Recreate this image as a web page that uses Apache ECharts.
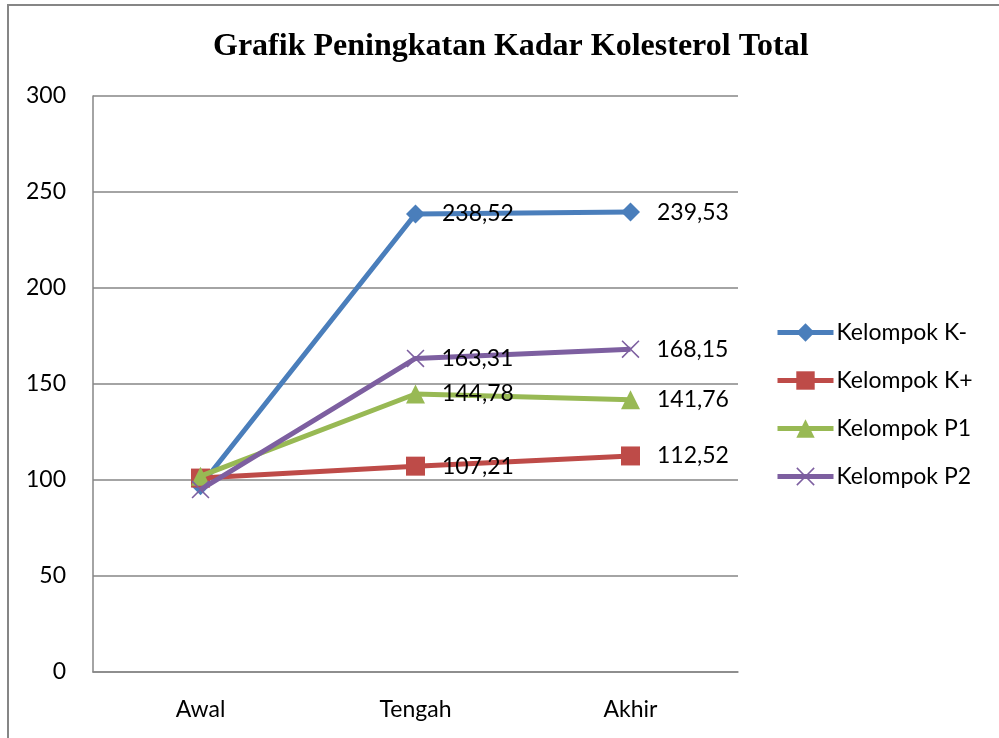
<!DOCTYPE html>
<html>
<head>
<meta charset="utf-8">
<script src="https://cdn.jsdelivr.net/npm/echarts@6/dist/echarts.min.js"></script>
<style>html,body{margin:0;padding:0;background:#fff}#c{width:999px;height:738px}</style>
</head>
<body>
<div id="c"></div>
<script>
const categories = ['Awal', 'Tengah', 'Akhir'];
const kelompokKMinus = [97, 238.52, 239.53];
const kelompokKPlus = [101, 107.21, 112.52];
const kelompokP1 = [102, 144.78, 141.76];
const kelompokP2 = [95, 163.31, 168.15];
const seriesNames = ['Kelompok K-', 'Kelompok K+', 'Kelompok P1', 'Kelompok P2'];
const yTicks = [0, 50, 100, 150, 200, 250, 300];

const colors = ['#4A7EBB', '#BE4B48', '#98B954', '#7D5FA0'];
const crossPath = 'path://M0,1.2 L1.2,0 L10,8.8 L18.8,0 L20,1.2 L11.2,10 L20,18.8 L18.8,20 L10,11.2 L1.2,20 L0,18.8 L8.8,10 Z';
const symbols = ['diamond', 'rect', 'triangle', crossPath];
const allData = [kelompokKMinus, kelompokKPlus, kelompokP1, kelompokP2];
const FONT = 'Lato';

const chart = echarts.init(document.getElementById('c'));
chart.setOption({
  animation: false,
  backgroundColor: '#fff',
  title: {
    text: 'Grafik Peningkatan Kadar Kolesterol Total',
    left: 213, top: 31, padding: 0,
    textStyle: {fontFamily: 'Liberation Serif', fontWeight: 'bold', fontSize: 32, color: '#000'}
  },
  graphic: [{
    type: 'rect', shape: {x: 8, y: 5, width: 1200, height: 1000},
    style: {fill: 'none', stroke: '#868686', lineWidth: 2}, silent: true
  }],
  grid: {left: 93, right: 261, top: 96, bottom: 66, containLabel: false},
  legend: {
    orient: 'vertical', left: 775, top: 321, padding: 0,
    itemWidth: 56, itemHeight: 23, itemGap: 25,
    lineStyle: {width: 5},
    textStyle: {fontFamily: FONT, fontSize: 23, color: '#000', padding: [0, 0, 0, -2]},
    data: seriesNames
  },
  xAxis: {
    type: 'category', data: categories, boundaryGap: true,
    axisLine: {lineStyle: {color: '#868686', width: 1.5}},
    axisTick: {show: false},
    axisLabel: {fontFamily: FONT, fontSize: 23, color: '#000', margin: 26}
  },
  yAxis: {
    type: 'value', min: yTicks[0], max: yTicks[yTicks.length - 1], interval: 50,
    axisLine: {show: true, lineStyle: {color: '#868686', width: 1.5}},
    axisTick: {show: false},
    splitLine: {lineStyle: {color: '#868686', width: 1.5}},
    axisLabel: {fontFamily: FONT, fontSize: 23, color: '#000', margin: 27}
  },
  series: allData.map((arr, si) => ({
    name: seriesNames[si],
    type: 'line',
    data: arr.map((v, i) => i === 0 ? {value: v, label: {show: false}} : v),
    symbol: symbols[si],
    symbolSize: si === 3 ? 18 : 19,
    showAllSymbol: true,
    lineStyle: {color: colors[si], width: 5},
    itemStyle: {color: colors[si]},
    label: {
      show: true, position: 'right', distance: 17,
      fontFamily: FONT, fontSize: 23, color: '#000',
      formatter: p => p.value.toFixed(2).replace('.', ',')
    },
    z: 2 + si
  }))
});
</script>
</body>
</html>
